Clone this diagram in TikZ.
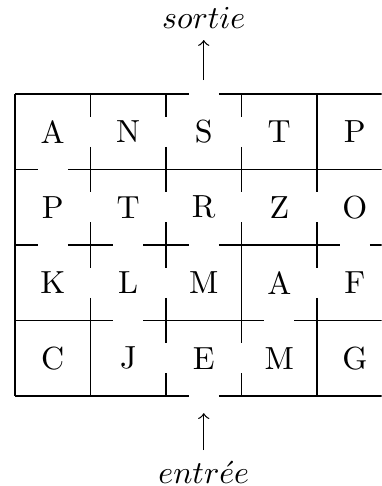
\documentclass[tikz,border=0pt]{standalone}
\begin{document}
\begin{tikzpicture}[x=0.83cm,y=0.83cm,
  wall/.style={line width=0.4pt},
  lettre/.style={inner sep=0pt},
  fleche/.style={->,line width=0.4pt}]
\useasboundingbox (-0.198,1.245) rectangle (4.854,-5.19);
\clip (-0.198,1.245) rectangle (4.854,-5.19);
% full horizontal walls (x, row line)
\foreach \i/\j in {0/0,1/0,3/0,4/0, 1/1,2/1,3/1,4/1, 3/2, 0/3,2/3,4/3, 0/4,1/4,3/4,4/4}
  \draw[wall] (\i,-\j) -- ++(1,0);
% horizontal walls with a door
\foreach \i/\j in {2/0, 0/1, 0/2,1/2,2/2,4/2, 1/3,3/3, 2/4}
  \draw[wall] (\i,-\j) -- ++(0.3,0) (\i+0.7,-\j) -- ++(0.3,0);
% full vertical walls (column line, row)
\foreach \i/\j in {0/0,0/1,0/2,0/3, 1/3, 3/2, 4/0,4/3, 5/0,5/1,5/2,5/3}
  \draw[wall] (\i,-\j) -- ++(0,-1);
% vertical walls with a door
\foreach \i/\j in {1/0,1/1,1/2, 2/0,2/1,2/2,2/3, 3/0,3/1,3/3, 4/1,4/2}
  \draw[wall] (\i,-\j) -- ++(0,-0.3) (\i,-\j-0.7) -- ++(0,-0.3);
% letters
\foreach \l [count=\c from 0] in {A,N,S,T,P}
  \node[lettre] (r0c\c) at (\c+0.5,-0.5) {\l};
\foreach \l [count=\c from 0] in {P,T,R,Z,O}
  \node[lettre] (r1c\c) at (\c+0.5,-1.5) {\l};
\foreach \l [count=\c from 0] in {K,L,M,A,F}
  \node[lettre] (r2c\c) at (\c+0.5,-2.5) {\l};
\foreach \l [count=\c from 0] in {C,J,E,M,G}
  \node[lettre] (r3c\c) at (\c+0.5,-3.5) {\l};
% exit and entrance
\node[anchor=base,inner sep=0pt] (sortie) at (2.5,0.874) {$sortie$};
\coordinate (s1) at (2.5,0.185);
\coordinate (s2) at (2.5,0.715);
\draw[fleche] (s1) -- (s2);
\node[anchor=base,inner sep=0pt] (entree) at (2.5,-5.152) {$entr\acute{e}e$};
\coordinate (e1) at (2.5,-4.715);
\coordinate (e2) at (2.5,-4.225);
\draw[fleche] (e1) -- (e2);
\end{tikzpicture}
\end{document}
